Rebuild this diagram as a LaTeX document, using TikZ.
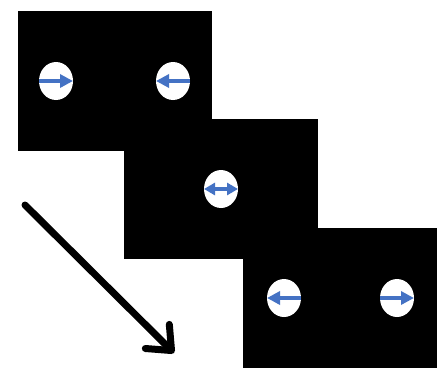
\documentclass[tikz,border=0pt]{standalone}
\usetikzlibrary{arrows.meta,shapes.geometric}
\definecolor{arrowblue}{HTML}{4472C4}
\begin{document}
\begin{tikzpicture}[x=1pt,y=-1pt,
  panel/.style={fill=black,draw=none,minimum width=194pt,minimum height=140pt,inner sep=0pt,outer sep=0pt,anchor=north west},
  spot/.style={ellipse,fill=white,draw=none,minimum width=34pt,minimum height=38pt,inner sep=0pt,outer sep=0pt},
  cue/.style={draw=arrowblue,line width=4pt,-{Triangle[length=13pt,width=13pt]}},
  bicue/.style={draw=arrowblue,line width=3.5pt,{Triangle[length=11pt,width=12pt]}-{Triangle[length=11pt,width=12pt]}},
  timearrow/.style={draw=black,line width=7pt,line cap=round,-{Straight Barb[length=20pt,width=34pt,round]}},
]
\useasboundingbox (0,0) rectangle (447,367);
\node[panel] (p1) at (18,11) {};
\node[panel] (p2) at (124,119) {};
\node[panel] (p3) at (243,228) {};
\node[spot] (s1) at (56,81) {};
\node[spot] (s2) at (173,81) {};
\node[spot] (s3) at (221,189) {};
\node[spot] (s4) at (284,298) {};
\node[spot] (s5) at (397,298) {};
\draw[cue] (s1.west) -- (s1.east);
\draw[cue] (s2.east) -- (s2.west);
\draw[bicue] (s3.west) -- (s3.east);
\draw[cue] (s4.east) -- (s4.west);
\draw[cue] (s5.west) -- (s5.east);
\coordinate (t0) at (25,205);
\coordinate (t1) at (174,353);
\draw[timearrow] (t0) -- (t1);
\end{tikzpicture}
\end{document}
